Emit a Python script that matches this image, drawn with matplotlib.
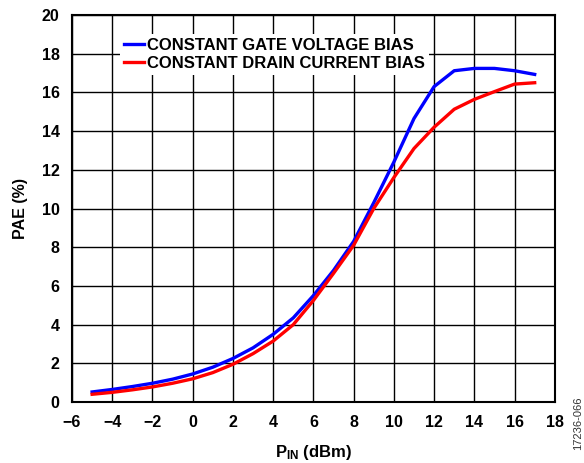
import matplotlib
matplotlib.use("Agg")
import matplotlib.pyplot as plt

plt.rcParams['font.family'] = ['Liberation Sans', 'DejaVu Sans']
plt.rcParams['font.weight'] = 'bold'
plt.rcParams['mathtext.fontset'] = 'custom'
plt.rcParams['mathtext.bf'] = 'Liberation Sans:bold'
plt.rcParams['mathtext.rm'] = 'Liberation Sans:bold'

# input power sweep, dBm
p_in = [-5, -4, -3, -2, -1, 0, 1, 2, 3, 4, 5, 6, 7, 8, 9, 10, 11, 12, 13, 14, 15, 16, 17]

pae_gate = [0.52, 0.65, 0.8, 0.97, 1.18, 1.45, 1.8, 2.25, 2.8, 3.5, 4.35, 5.5, 6.8,
            8.3, 10.3, 12.4, 14.65, 16.3, 17.12, 17.24, 17.24, 17.12, 16.93]
pae_drain = [0.4, 0.5, 0.63, 0.78, 0.97, 1.2, 1.52, 1.95, 2.5, 3.15, 4.0, 5.25, 6.65,
             8.1, 10.0, 11.6, 13.1, 14.2, 15.13, 15.64, 16.04, 16.43, 16.5]

labels = ['CONSTANT GATE VOLTAGE BIAS', 'CONSTANT DRAIN CURRENT BIAS']

fig = plt.figure(figsize=(5.84, 4.63), dpi=100)
ax = fig.add_axes([0.1233, 0.1317, 0.8267, 0.8359])

ax.plot(p_in, pae_gate, color='#0000ff', lw=2.4, label=labels[0])
ax.plot(p_in, pae_drain, color='#ff0000', lw=2.4, label=labels[1])

ax.set_xlim(-6, 18)
ax.set_ylim(0, 20)
ax.set_xticks(range(-6, 19, 2))
ax.set_yticks(range(0, 21, 2))
ax.grid(True, color='black', lw=1.0)
ax.set_axisbelow(True)
for s in ax.spines.values():
    s.set_linewidth(1.5)
ax.tick_params(length=0, labelsize=11.5, pad=9)

ax.set_ylabel('PAE (%)', fontsize=11.5, fontweight='bold', labelpad=10)
ax.set_xlabel(r'$\mathbf{P_{IN}}$ (dBm)', fontsize=12, fontweight='bold', labelpad=10)

leg = ax.legend(loc='upper left', bbox_to_anchor=(0.099, 0.952), fontsize=12,
                handlelength=1.2, handletextpad=0.2, labelspacing=0.2,
                borderpad=0.25, borderaxespad=0, frameon=True, fancybox=False)
leg.get_frame().set_edgecolor('none')
leg.get_frame().set_facecolor('white')
leg.get_frame().set_alpha(1)

fig.text(0.99, 0.085, '17236-066', rotation=90, fontsize=8, fontweight='normal',
         ha='center', va='center', color='#333333')

fig.savefig('out.png', dpi=100)
